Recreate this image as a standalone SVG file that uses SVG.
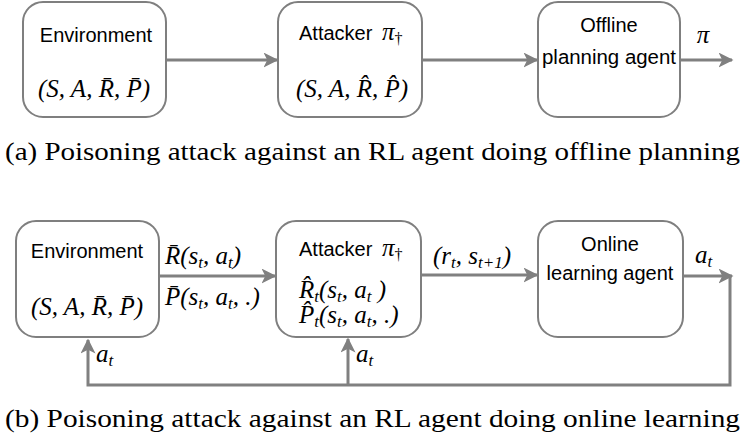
<svg xmlns="http://www.w3.org/2000/svg" width="745" height="444" viewBox="0 0 745 444">
<style>
.box{fill:#fff;stroke:#7f7f7f;stroke-width:2}
.ln{fill:none;stroke:#808080;stroke-width:3}
.t{font-family:"Liberation Sans",Arial,sans-serif;font-size:20px;fill:#000}
.m{font-family:"Liberation Serif","DejaVu Serif",serif;font-style:italic;font-size:25px;fill:#000}
.cap{font-family:"Liberation Serif","DejaVu Serif",serif;font-size:26px;fill:#000}
</style>
<defs>
<marker id="ah" viewBox="0 0 10 10" refX="9" refY="5" markerWidth="5" markerHeight="5" orient="auto" markerUnits="strokeWidth">
<path d="M0,0 L10,5 L0,10 L2.5,5 z" fill="#808080"/>
</marker>
</defs>
<g id="connectors">
<line class="ln" x1="166" y1="60" x2="277" y2="60" marker-end="url(#ah)"/>
<line class="ln" x1="422" y1="60" x2="537" y2="60" marker-end="url(#ah)"/>
<line class="ln" x1="680" y1="60" x2="732" y2="60" marker-end="url(#ah)"/>
<line class="ln" x1="159" y1="276" x2="275" y2="276" marker-end="url(#ah)"/>
<line class="ln" x1="421" y1="275" x2="537" y2="275" marker-end="url(#ah)"/>
<line class="ln" x1="683" y1="276" x2="732" y2="276" marker-end="url(#ah)"/>
<polyline class="ln" points="730,276 730,385 88,385 88,340" marker-end="url(#ah)"/>
<line class="ln" x1="348" y1="385" x2="348" y2="339" marker-end="url(#ah)"/>
</g>
<g id="env-a">
<rect class="box" x="23" y="2" width="143" height="115" rx="20"/>
<text class="t" x="96" y="42" text-anchor="middle">Environment</text>
<text class="m" x="94" y="97" text-anchor="middle">(S, A, R̄, P̄)</text>
</g>
<g id="attacker-a">
<rect class="box" x="278" y="2" width="144" height="115" rx="20"/>
<text class="t" x="299" y="40">Attacker</text>
<text class="m" x="382" y="40">π<tspan font-size="16" font-style="normal" dy="4">†</tspan></text>
<text class="m" x="352" y="97" text-anchor="middle">(S, A, R̂, P̂)</text>
</g>
<g id="offline-a">
<rect class="box" x="538" y="2" width="142" height="115" rx="20"/>
<text class="t" x="609" y="32" text-anchor="middle">Offline</text>
<text class="t" x="609" y="64" text-anchor="middle" textLength="134" lengthAdjust="spacingAndGlyphs">planning agent</text>
</g>
<text class="m" x="703" y="43" text-anchor="middle">π</text>
<text class="cap" x="5" y="160" textLength="735" lengthAdjust="spacingAndGlyphs">(a) Poisoning attack against an RL agent doing offline planning</text>
<g id="env-b">
<rect class="box" x="16" y="221" width="143" height="116" rx="20"/>
<text class="t" x="87" y="258" text-anchor="middle">Environment</text>
<text class="m" x="87" y="315" text-anchor="middle">(S, A, R̄, P̄)</text>
</g>
<g id="attacker-b">
<rect class="box" x="276" y="221" width="145" height="116" rx="20"/>
<text class="t" x="299" y="256">Attacker</text>
<text class="m" x="382" y="256">π<tspan font-size="16" font-style="normal" dy="4">†</tspan></text>
<text class="m" x="299" y="298">R̂<tspan font-size="17" dy="4">t</tspan><tspan dy="-4">(s</tspan><tspan font-size="17" dy="4">t</tspan><tspan dy="-4">, a</tspan><tspan font-size="17" dy="4">t</tspan><tspan dy="-4"> )</tspan></text>
<text class="m" x="299" y="323">P̂<tspan font-size="17" dy="4">t</tspan><tspan dy="-4">(s</tspan><tspan font-size="17" dy="4">t</tspan><tspan dy="-4">, a</tspan><tspan font-size="17" dy="4">t</tspan><tspan dy="-4">, .)</tspan></text>
</g>
<g id="online-b">
<rect class="box" x="538" y="221" width="145" height="116" rx="20"/>
<text class="t" x="610" y="251" text-anchor="middle">Online</text>
<text class="t" x="610" y="280" text-anchor="middle">learning agent</text>
</g>
<text class="m" x="165" y="264">R̄(s<tspan font-size="17" dy="4">t</tspan><tspan dy="-4">, a</tspan><tspan font-size="17" dy="4">t</tspan><tspan dy="-4">)</tspan></text>
<text class="m" x="165" y="305">P̄(s<tspan font-size="17" dy="4">t</tspan><tspan dy="-4">, a</tspan><tspan font-size="17" dy="4">t</tspan><tspan dy="-4">, .)</tspan></text>
<text class="m" x="433" y="264">(r<tspan font-size="17" dy="4">t</tspan><tspan dy="-4">, s</tspan><tspan font-size="17" dy="4">t+1</tspan><tspan dy="-4">)</tspan></text>
<text class="m" x="695" y="263">a<tspan font-size="17" dy="4">t</tspan></text>
<text class="m" x="96" y="362">a<tspan font-size="17" dy="4">t</tspan></text>
<text class="m" x="356" y="362">a<tspan font-size="17" dy="4">t</tspan></text>
<text class="cap" x="5" y="427" textLength="735" lengthAdjust="spacingAndGlyphs">(b) Poisoning attack against an RL agent doing online learning</text>
</svg>
